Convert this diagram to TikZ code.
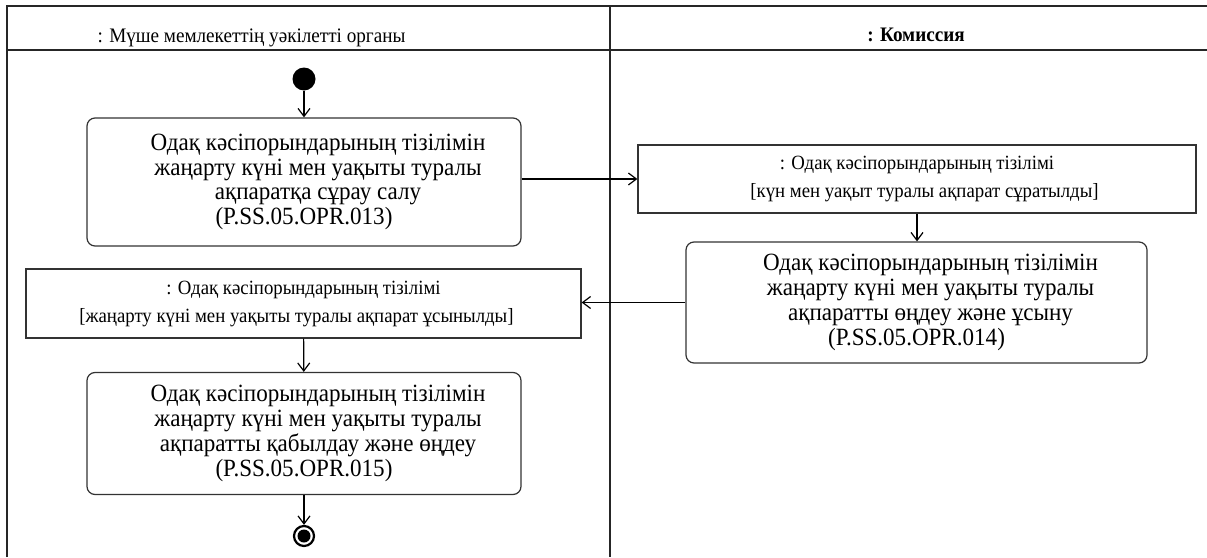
\documentclass[tikz,border=0pt]{standalone}
\usepackage{fontspec}
\setmainfont[FakeStretch=0.93]{Liberation Serif}
\usetikzlibrary{arrows.meta}
\newcommand{\shl}{\hspace*{28pt}}
\begin{document}
\begin{tikzpicture}[x=1pt,y=-1pt,
  lane/.style={line width=1.2pt, draw=black!85},
  act/.style={draw=black!80, line width=1.2pt, rounded corners=8pt, align=center,
    inner sep=0pt, font=\fontsize{24.8}{24.8}\selectfont},
  obj/.style={draw=black!80, line width=1.2pt, align=center, inner sep=0pt,
    font=\fontsize{20.2}{28}\selectfont},
  hdr/.style={font=\fontsize{20.6}{24}\selectfont, inner sep=0pt, anchor=base},
  arr/.style={line width=1.2pt, -{Straight Barb[length=8pt,width=12pt]}},
  startnode/.style={circle, fill=black, minimum size=23pt, inner sep=0pt},
  endnode/.style={circle, draw=black, line width=2.2pt, minimum size=20pt, inner sep=0pt,
    path picture={\fill[black] (path picture bounding box.center) circle (6.5pt);}}
]
\useasboundingbox (0,0) rectangle (1207,557);
\fill[white] (0,0) rectangle (1207,557);
% swimlanes
\draw[lane] (7,557) -- (7,6) -- (1207,6);
\draw[lane] (7,50) -- (1207,50);
\draw[lane] (610,6) -- (610,557);
\node[hdr] (h1) at (251.5,42) {: Мүше мемлекеттің уәкілетті органы};
\node[hdr, font=\fontsize{20.6}{24}\selectfont\bfseries] (h2) at (916,41) {: Комиссия};
% nodes
\node[startnode] (start) at (304,79) {};
\node[act, minimum width=434pt, minimum height=128pt] (box1) at (304,182)
  {\shl Одақ кәсіпорындарының тізілімін\\\shl жаңарту күні мен уақыты туралы\\\shl ақпаратқа сұрау салу\\(P.SS.05.OPR.013)};
\node[obj, minimum width=558pt, minimum height=68pt] (obj1) at (917,179)
  {: Одақ кәсіпорындарының тізілімі\\{\hspace*{15pt}[күн мен уақыт туралы ақпарат сұратылды]}};
\node[act, minimum width=461pt, minimum height=121pt] (box2) at (916.5,302.5)
  {\shl Одақ кәсіпорындарының тізілімін\\\shl жаңарту күні мен уақыты туралы\\\shl ақпаратты өңдеу және ұсыну\\(P.SS.05.OPR.014)};
\node[obj, minimum width=555pt, minimum height=69pt] (obj2) at (303.5,303.5)
  {: Одақ кәсіпорындарының тізілімі\\{[жаңарту күні мен уақыты туралы ақпарат ұсынылды]\hspace*{14pt}}};
\node[act, minimum width=434pt, minimum height=122pt] (box3) at (304,433.5)
  {\shl Одақ кәсіпорындарының тізілімін\\\shl жаңарту күні мен уақыты туралы\\\shl ақпаратты қабылдау және өңдеу\\(P.SS.05.OPR.015)};
\node[endnode] (end) at (304,536) {};
% connectors
\draw[arr] (start) -- (box1);
\draw[arr] (box1.east |- obj1.west) -- (obj1.west);
\draw[arr] (obj1.south) -- (obj1.south |- box2.north);
\draw[arr] (box2.west) -- (box2.west -| obj2.east);
\draw[arr] (obj2) -- (box3);
\draw[arr] (box3) -- (end);
\end{tikzpicture}
\end{document}
